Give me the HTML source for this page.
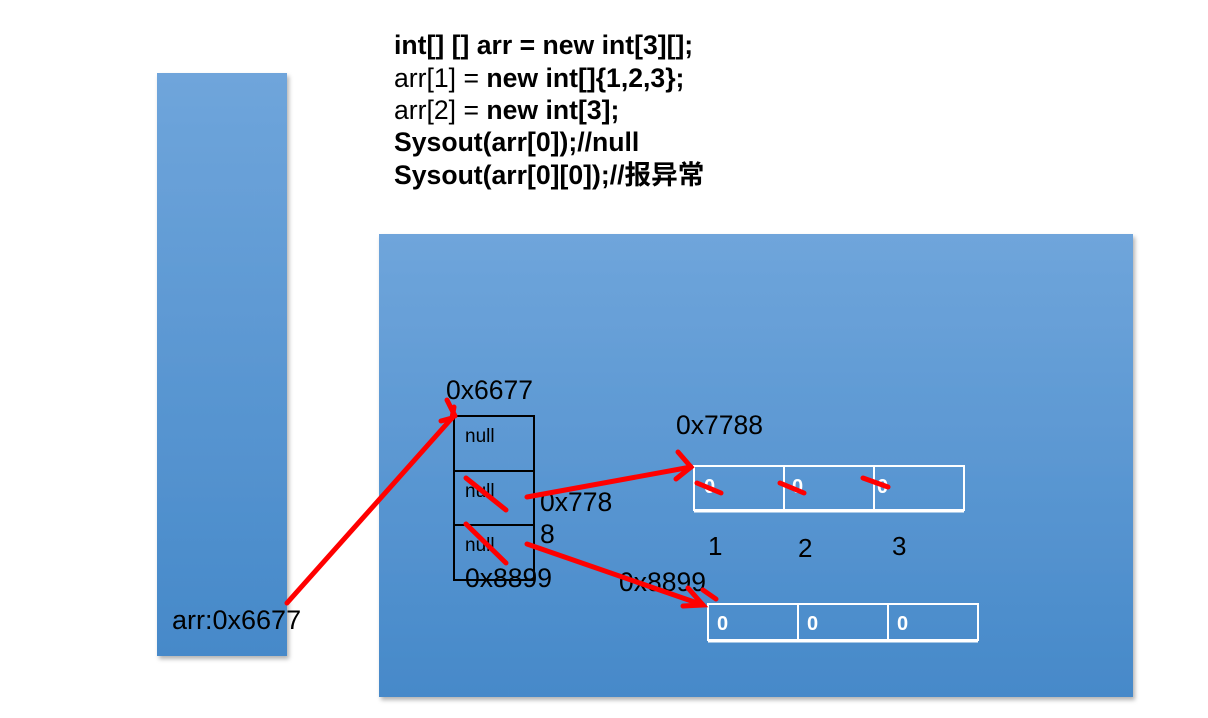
<!DOCTYPE html>
<html><head><meta charset="utf-8"><style>
body{margin:0;background:#fff;}
svg{display:block;font-family:"Liberation Sans","Noto Sans CJK SC",sans-serif;}
</style></head><body>
<svg width="1208" height="718" viewBox="0 0 1208 718">
<defs>
<linearGradient id="g" x1="0" y1="0" x2="0" y2="1">
<stop offset="0" stop-color="#6fa5db"/><stop offset="1" stop-color="#4689c9"/>
</linearGradient>
<filter id="s" x="-5%" y="-5%" width="115%" height="115%"><feDropShadow dx="2" dy="3" stdDeviation="2" flood-color="#000" flood-opacity="0.3"/></filter>
</defs>
<rect x="157" y="73" width="130" height="583" fill="url(#g)" filter="url(#s)"/>
<rect x="379" y="234" width="754" height="463" fill="url(#g)" filter="url(#s)"/>
<g font-size="26.6" fill="#000">
<text x="394" y="54" font-weight="bold">int[] [] arr = new int[3][];</text>
<text x="394" y="87">arr[1] = <tspan font-weight="bold">new int[]{1,2,3};</tspan></text>
<text x="394" y="119">arr[2] = <tspan font-weight="bold">new int[3];</tspan></text>
<text x="394" y="151" font-weight="bold">Sysout(arr[0]);//null</text>
<text x="394" y="184" font-weight="bold">Sysout(arr[0][0]);//报异常</text>
</g>
<text x="172" y="629" font-size="27">arr:0x6677</text>
<text x="446" y="399" font-size="26.5">0x6677</text>
<text x="676" y="434" font-size="26.5">0x7788</text>
<text x="540" y="511" font-size="26.5">0x778</text>
<text x="540" y="543" font-size="26.5">8</text>
<text x="465" y="587" font-size="26.5">0x8899</text>
<text x="619" y="591" font-size="26.5">0x8899</text>
<text x="708" y="555" font-size="26">1</text>
<text x="798" y="557" font-size="26">2</text>
<text x="892" y="555" font-size="26">3</text>
<g fill="none" stroke="#000" stroke-width="2">
<rect x="454" y="416" width="80" height="164"/>
<line x1="454" y1="471" x2="534" y2="471"/>
<line x1="454" y1="525" x2="534" y2="525"/>
</g>
<g font-size="19"><text x="465" y="442">null</text><text x="465" y="497">null</text><text x="465" y="551">null</text></g>
<g fill="none" stroke="#fff" stroke-width="2">
<rect x="694" y="466" width="270" height="44"/>
<line x1="784" y1="466" x2="784" y2="510"/><line x1="874" y1="466" x2="874" y2="510"/>
<line x1="694" y1="511" x2="964" y2="511" stroke-width="3"/>
<rect x="708" y="604" width="270" height="36"/>
<line x1="798" y1="604" x2="798" y2="640"/><line x1="888" y1="604" x2="888" y2="640"/>
<line x1="708" y1="641" x2="978" y2="641" stroke-width="3"/>
</g>
<g font-size="20" font-weight="bold" fill="#fff">
<text x="704" y="493">0</text><text x="792" y="493">0</text><text x="877" y="493">0</text>
<text x="717" y="630">0</text><text x="807" y="630">0</text><text x="897" y="630">0</text>
</g>
<g stroke="#f00" stroke-width="5" fill="none" stroke-linecap="round">
<line x1="287" y1="603" x2="452" y2="418"/>
<polyline points="441,421 452,418 454,407"/>
<line x1="447" y1="400" x2="455" y2="416"/>
<line x1="527" y1="497" x2="691" y2="467"/>
<polyline points="678,452 691,467 676,479"/>
<line x1="527" y1="544" x2="703" y2="605"/>
<polyline points="688,588 703,605 683,606"/>
<line x1="703" y1="590" x2="716" y2="599"/>
<line x1="466" y1="478" x2="506" y2="510"/>
<line x1="466" y1="524" x2="506" y2="563"/>
<line x1="697" y1="483" x2="721" y2="493"/>
<line x1="780" y1="483" x2="804" y2="493"/>
<line x1="863" y1="478" x2="888" y2="487"/>
</g>
</svg>
</body></html>
